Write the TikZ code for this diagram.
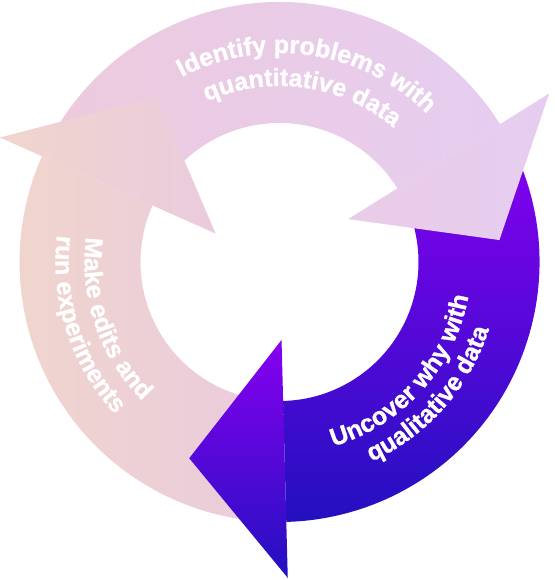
\documentclass[tikz,border=0pt]{standalone}
\usepackage{fontspec}
\usepackage{xcolor}
\usetikzlibrary{decorations.text}
\newfontfamily\cyclefont{Liberation Sans}[BoldFeatures={FakeBold=1}]
\definecolor{pinkL}{HTML}{EDCADD}
\definecolor{pinkR}{HTML}{E6CDF0}
\definecolor{peachL}{HTML}{F0D5CD}
\definecolor{peachR}{HTML}{EACBDE}
\definecolor{violetT}{HTML}{8700F0}
\definecolor{indigoB}{HTML}{2310C0}
\newcommand{\lbl}{\cyclefont\bfseries\fontsize{25}{25}\selectfont}

\begin{document}
\begin{tikzpicture}[x=1pt,y=1pt]
    \tikzstyle{arctext}=[decorate, decoration={text along path, text align=center, text color=white}]
    \useasboundingbox (-279.5,-318) rectangle (274.5,262);
    \shade [left color=peachL, right color=peachR] (268:260) arc [start angle=268, end angle=156, radius=260] -- (156:139) arc [start angle=156, end angle=268, radius=139] -- cycle;
    \shade [left color=pinkL, right color=pinkR] (150:260) arc [start angle=150, end angle=32, radius=260] -- (32:139) arc [start angle=32, end angle=150, radius=139] -- cycle;
    \shade [top color=violetT, bottom color=indigoB] (28:260) arc [start angle=28, end angle=-88.5, radius=260] -- (-88.5:139) arc [start angle=-88.5, end angle=28, radius=139] -- cycle;
    \shade [left color=pinkL!50!pinkR, right color=pinkR] (32:81) -- (5.7:221) -- (32:318) -- cycle;
    \shade [top color=violetT, bottom color=indigoB] (-88.5:78) -- (-114.7:216) -- (-88.5:316) -- cycle;
    \shade [left color=peachL, right color=peachR] (156:70) -- (126.5:206) -- (156:306) -- cycle;
    \path [arctext, decoration={text={|\lbl|Identify problems with}}] (141.5:209) arc [start angle=141.5, end angle=21.5, radius=209];
    \path [arctext, decoration={text={|\lbl|quantitative data}}] (142:176) arc [start angle=142, end angle=22, radius=176];
    \path [arctext, decoration={text={|\lbl|Make edits and}}] (139:195) arc [start angle=139, end angle=259, radius=195];
    \path [arctext, decoration={text={|\lbl|run experiments}}] (138:224) arc [start angle=138, end angle=258, radius=224];
    \path [arctext, decoration={text={|\lbl|Uncover why with}}] (-102:192) arc [start angle=-102, end angle=18, radius=192];
    \path [arctext, decoration={text={|\lbl|qualitative data}}] (-101.5:220) arc [start angle=-101.5, end angle=18.5, radius=220];
\end{tikzpicture}
\end{document}
